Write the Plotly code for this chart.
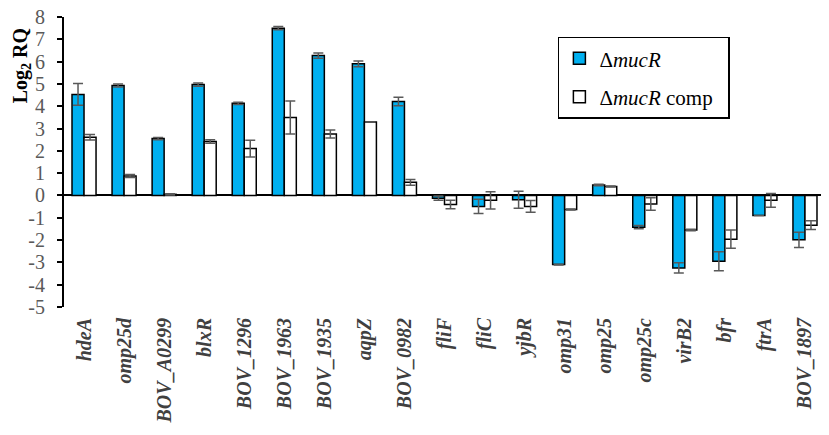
import plotly.graph_objects as go

# genes on the x axis
genes = ["hdeA", "omp25d", "BOV_A0299", "blxR", "BOV_1296", "BOV_1963", "BOV_1935",
         "aqpZ", "BOV_0982", "fliF", "fliC", "yjbR", "omp31", "omp25", "omp25c",
         "virB2", "bfr", "ftrA", "BOV_1897"]

# log2 RQ, mucR deletion mutant
mucr = [4.53, 4.93, 2.55, 4.97, 4.13, 7.50, 6.27, 5.90, 4.21, -0.12, -0.49, -0.19,
        -3.10, 0.47, -1.42, -3.25, -2.95, -0.90, -1.99]
mucr_err = [0.49, 0.07, 0.05, 0.07, 0.05, 0.07, 0.12, 0.13, 0.19, 0.10, 0.32, 0.38,
            0.02, 0.03, 0.07, 0.23, 0.43, 0.0, 0.34]

# log2 RQ, complemented strain
comp = [2.61, 0.87, 0.05, 2.42, 2.10, 3.50, 2.76, 3.29, 0.59, -0.41, -0.22, -0.49,
        -0.63, 0.40, -0.38, -1.55, -1.96, -0.22, -1.33]
comp_err = [0.12, 0.07, 0.03, 0.08, 0.38, 0.74, 0.18, 0.0, 0.13, 0.19, 0.39, 0.26,
            0.02, 0.02, 0.28, 0.03, 0.41, 0.31, 0.20]

y_ticks = list(range(-5, 9))

serif = "Liberation Serif"
err_style = dict(type="data", symmetric=True, color="#595959", thickness=1.5, width=5)

fig = go.Figure()
fig.add_trace(go.Bar(
    x=genes, y=mucr, name="Δ<i>mucR</i>", legendgroup="a",
    marker=dict(color="#00B0F0", line=dict(color="black", width=1.5)),
    error_y=dict(array=mucr_err, **err_style),
))
fig.add_trace(go.Bar(
    x=genes, y=comp, name="Δ<i>mucR</i> comp  ", legendgroup="b",
    marker=dict(color="white", line=dict(color="black", width=1.5)),
    error_y=dict(array=comp_err, **err_style),
))

# the page body adds 8px top/left, so the figure is 8px smaller than the window
fig.update_layout(
    width=821, height=427,
    margin=dict(l=56, r=4, t=9, b=128),
    paper_bgcolor="white", plot_bgcolor="white",
    barmode="group", bargap=0.4, bargroupgap=0,
    font=dict(family=serif, color="#404040"),
    legend=dict(
        x=0.649, y=0.932, xanchor="left", yanchor="top",
        bordercolor="black", borderwidth=1.5,
        font=dict(family=serif, size=21, color="black"),
        tracegroupgap=8, traceorder="grouped",
    ),
)

fig.update_xaxes(
    tickangle=-90, showline=False, ticks="", automargin=False,
    tickfont=dict(family=serif, size=20, color="#404040"),
    ticklabelstandoff=6,
    tickmode="array", tickvals=genes,
    ticktext=["<b><i>" + g + "</i></b>" for g in genes],
)
fig.update_yaxes(
    range=[-5, 8], tickmode="array", tickvals=y_ticks, automargin=False,
    ticktext=[str(v) for v in y_ticks], showgrid=False,
    showline=True, linecolor="black", linewidth=2,
    ticks="outside", ticklen=5, tickwidth=2, tickcolor="black",
    tickfont=dict(family=serif, size=20, color="#595959"),
    ticklabelstandoff=8, ticklabeloverflow="allow",
    zeroline=True, zerolinecolor="black", zerolinewidth=2,
)

# y axis title sits high on the axis, as in the original
fig.add_annotation(
    text="<b>Log<sub>2</sub> RQ</b>", textangle=-90,
    xref="paper", yref="paper", x=0, y=0.83, xshift=-43,
    xanchor="center", yanchor="middle", showarrow=False,
    font=dict(family=serif, size=20, color="black"),
)

fig.write_html("out.html")
